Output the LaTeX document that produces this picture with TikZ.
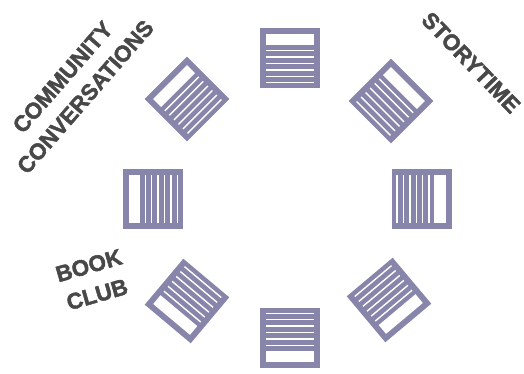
\documentclass[tikz,border=0pt]{standalone}
\usepackage{fontspec}
\setmainfont{Liberation Sans}
\newfontfamily\lblfont{Liberation Sans}[BoldFeatures={FakeBold=2}]
\definecolor{bookpurple}{RGB}{136,133,170}
\definecolor{labelgray}{RGB}{72,72,72}
\tikzset{
  bookicon/.pic={
    \fill[bookpurple] (-30,-30) rectangle (30,30);
    \fill[white] (-24,12.6) rectangle (24,24);
    \foreach \yy in {7.3,0.9,-5.5,-11.9,-18.3,-24.7}
      \fill[white] (-24,\yy-0.7) rectangle (24,\yy+0.7);
  },
  lbl/.style={text=labelgray, font=\lblfont\bfseries\fontsize{22.5}{30}\selectfont, align=center, inner sep=0pt}
}
\begin{document}
\begin{tikzpicture}[x=1pt,y=1pt]
\useasboundingbox (0,0) rectangle (524,373);
\pic (btop) [rotate=0] at (290,315) {bookicon};
\pic (btr) [rotate=-45] at (391,272) {bookicon};
\pic (bright) [rotate=-90] at (421.7,174) {bookicon};
\pic (bbr) [rotate=-140] at (389,73) {bookicon};
\pic (bbot) [rotate=180] at (290,35) {bookicon};
\pic (bbl) [rotate=140] at (187,72) {bookicon};
\pic (bleft) [rotate=90] at (152.5,174) {bookicon};
\pic (btl) [rotate=45] at (187,274) {bookicon};
\node[lbl, rotate=49] (community) at (74,286) {COMMUNITY\\CONVERSATIONS};
\node[lbl, rotate=-46] (storytime) at (471,310.5) {STORYTIME};
\node[lbl, rotate=16] (bookclub) at (93,93) {BOOK\\CLUB};
\end{tikzpicture}
\end{document}
